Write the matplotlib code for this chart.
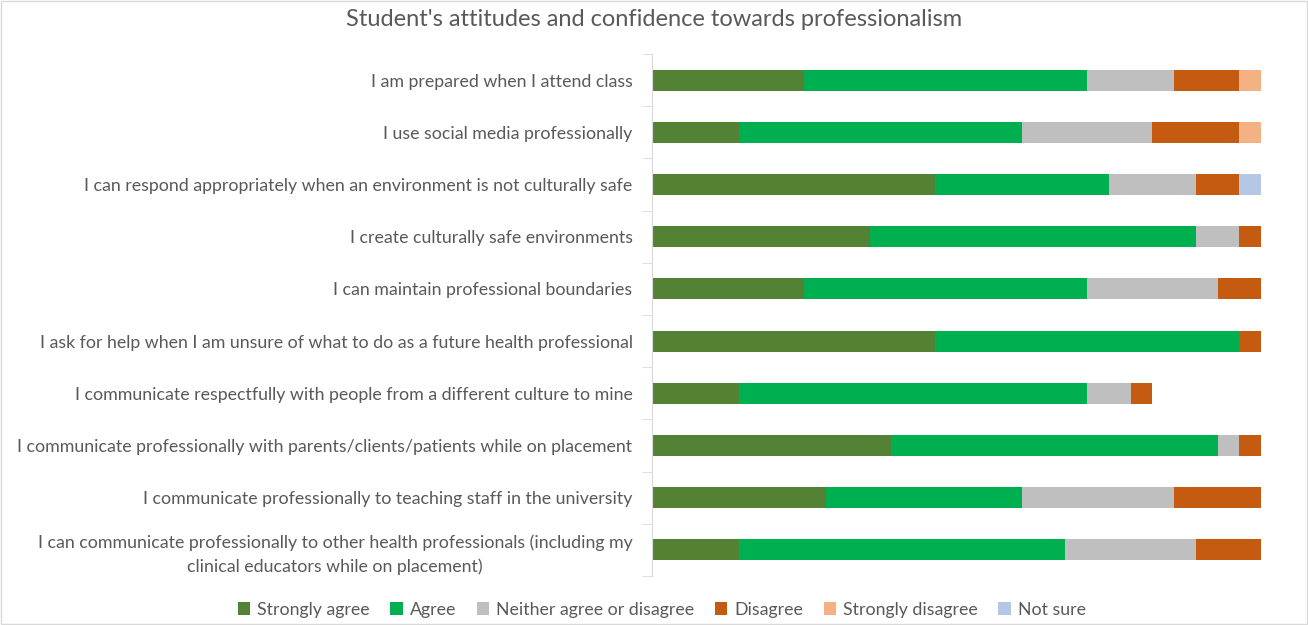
import matplotlib.pyplot as plt
import numpy as np

plt.rcParams['font.family'] = ['Lato', 'DejaVu Sans']

# statements, top to bottom
statements = [
    "I am prepared when I attend class",
    "I use social media professionally",
    "I can respond appropriately when an environment is not culturally safe",
    "I create culturally safe environments",
    "I can maintain professional boundaries",
    "I ask for help when I am unsure of what to do as a future health professional",
    "I communicate respectfully with people from a different culture to mine",
    "I communicate professionally with parents/clients/patients while on placement",
    "I communicate professionally to teaching staff in the university",
    "I can communicate professionally to other health professionals (including my\nclinical educators while on placement)",
]

responses = ["Strongly agree", "Agree", "Neither agree or disagree",
             "Disagree", "Strongly disagree", "Not sure"]
colors = ["#548235", "#00B050", "#BFBFBF", "#C55A11", "#F4B183", "#B4C7E7"]

strongly_agree = [7, 4, 13, 10, 7, 13, 4, 11, 8, 4]
agree = [13, 13, 8, 15, 13, 14, 16, 15, 9, 15]
neither = [4, 6, 4, 2, 6, 0, 2, 1, 7, 6]
disagree = [3, 4, 2, 1, 2, 1, 1, 1, 4, 3]
strongly_disagree = [1, 1, 0, 0, 0, 0, 0, 0, 0, 0]
not_sure = [0, 0, 1, 0, 0, 0, 0, 0, 0, 0]

series = [strongly_agree, agree, neither, disagree, strongly_disagree, not_sure]

fig = plt.figure(figsize=(13.08, 6.25), dpi=100)
ax = fig.add_axes([652 / 1308, 1 - 576 / 625, 609 / 1308, 522 / 625])

y = np.arange(len(statements))
left = np.zeros(len(statements))
for name, vals, c in zip(responses, series, colors):
    ax.barh(y, vals, left=left, height=0.4, color=c, label=name)
    left += np.array(vals)

ax.set_xlim(0, 28)
ax.set_ylim(len(statements) - 0.5, -0.5)
ax.set_xticks([])
ax.set_yticks(y)
ax.set_yticklabels(statements, fontsize=12.8, color="#595959",
                   multialignment="center", linespacing=1.5)
ax.set_yticks(np.arange(len(statements) + 1) - 0.5, minor=True)
ax.tick_params(axis="y", which="major", length=0, pad=14)
ax.tick_params(axis="y", which="minor", length=7, color="#D9D9D9")
for s in ["top", "right", "bottom"]:
    ax.spines[s].set_visible(False)
ax.spines["left"].set_color("#D9D9D9")

fig.suptitle("Student's attitudes and confidence towards professionalism",
             fontsize=17, color="#595959", y=0.985)

fig.legend(loc="lower center", bbox_to_anchor=(0.506, -0.014), ncol=6, frameon=False,
           fontsize=12.8, labelcolor="#595959", handlelength=0.7, handleheight=0.7,
           handletextpad=0.4, columnspacing=1.15)

fig.patches.append(plt.Rectangle((0.001, 0.001), 0.998, 0.998, transform=fig.transFigure,
                                 fill=False, edgecolor="#D9D9D9", linewidth=1))

fig.savefig("out.png", dpi=100)
